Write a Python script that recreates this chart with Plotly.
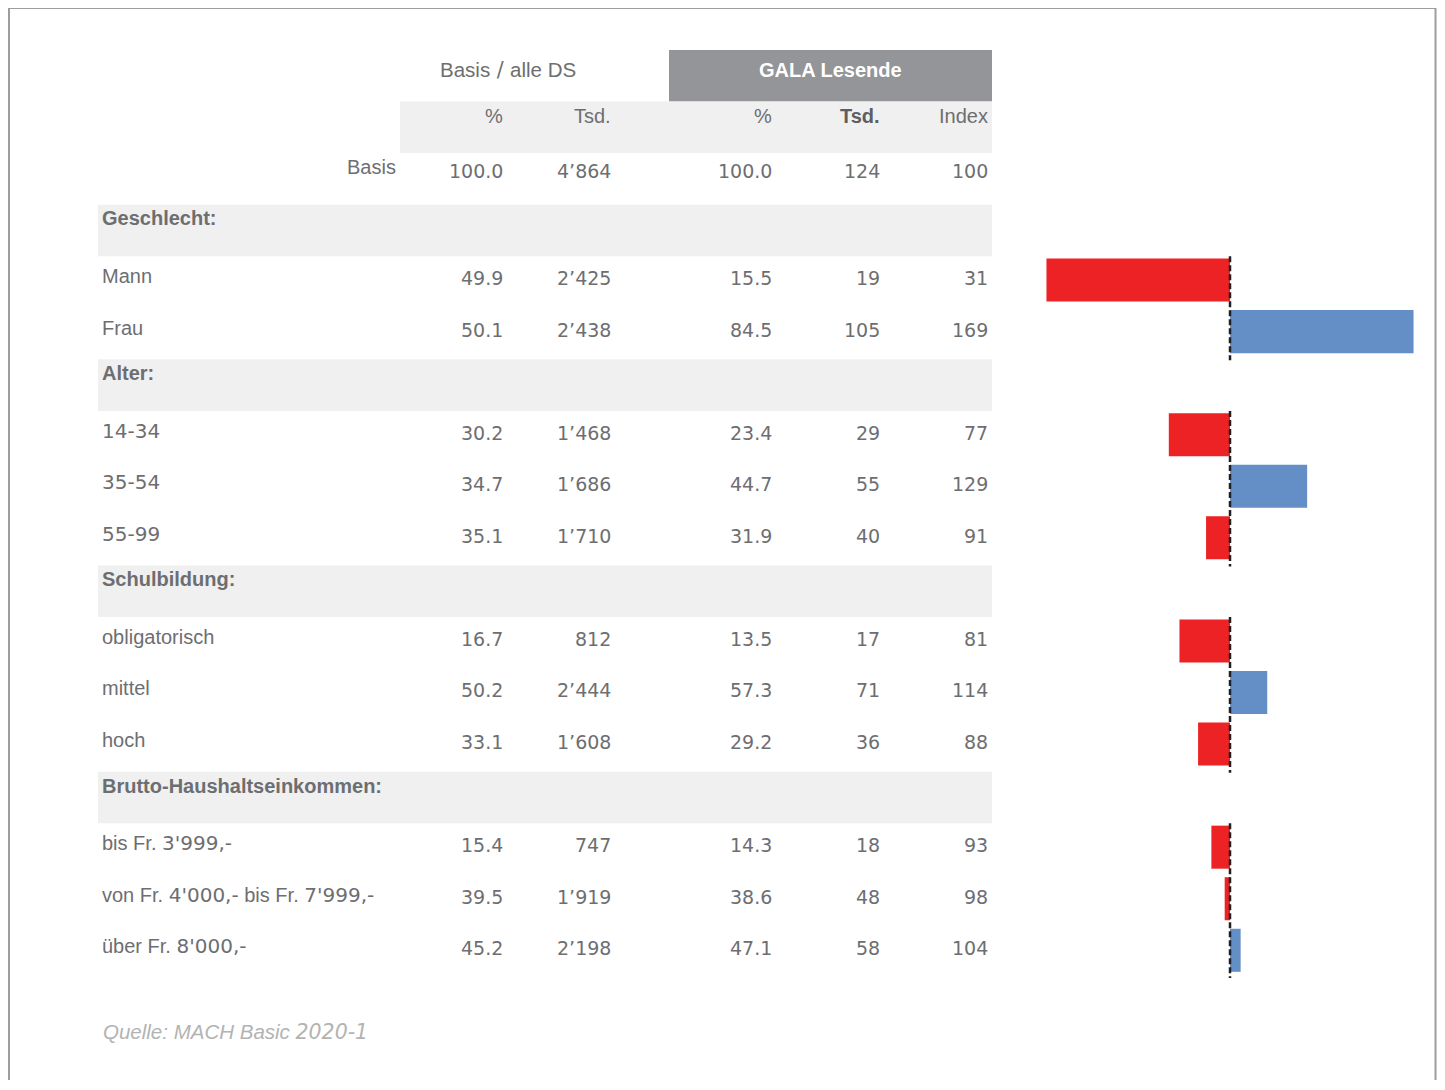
import re
import plotly.graph_objects as go

# ---------------- data ----------------
groups = ["Geschlecht:", "Alter:", "Schulbildung:", "Brutto-Haushaltseinkommen:"]
group_categories = [
    ["Mann", "Frau"],
    ["14-34", "35-54", "55-99"],
    ["obligatorisch", "mittel", "hoch"],
    ["bis Fr. 3'999,-", "von Fr. 4'000,- bis Fr. 7'999,-", "über Fr. 8'000,-"],
]
basis_pct = [49.9, 50.1, 30.2, 34.7, 35.1, 16.7, 50.2, 33.1, 15.4, 39.5, 45.2]
basis_tsd = [2425, 2438, 1468, 1686, 1710, 812, 2444, 1608, 747, 1919, 2198]
gala_pct = [15.5, 84.5, 23.4, 44.7, 31.9, 13.5, 57.3, 29.2, 14.3, 38.6, 47.1]
gala_tsd = [19, 105, 29, 55, 40, 17, 71, 36, 18, 48, 58]
gala_index = [31, 169, 77, 129, 91, 81, 114, 88, 93, 98, 104]

total_row = {"basis_pct": 100.0, "basis_tsd": 4864, "gala_pct": 100.0, "gala_tsd": 124, "gala_index": 100}

title_basis = "Basis / alle DS"
title_target = "GALA Lesende"
col_headers = ["%", "Tsd.", "%", "Tsd.", "Index"]
source_text = "Quelle: MACH Basic 2020-1"

# ---------------- layout helpers ----------------
W, H = 1429, 1072
OX, OY = 8, 8


def px(x):
    return (x - OX) / W


def py(y):
    return 1 - (y - OY) / H


ROW_TOP, ROW_BOTTOM, N_ROWS = 50, 978, 18

TXT = "#6d6e71"
LABEL_FONT = "Liberation Sans, Arial, sans-serif"
NUM_FONT = "DejaVu Sans, Verdana, sans-serif"
RED = "#ed2224"
BLUE = "#648fc6"
SHADE = "#f0f0f0"
HEADER_GRAY = "#939598"


def fmt_tsd(v):
    return f"{v:,}".replace(",", "\u2019")


def fmt_pct(v):
    return f"{v:.1f}"


def mixed(label, pattern=r"(\d[\d'\u2019,\-]*)"):
    return re.sub(pattern,
                  lambda m: f'<span style="font-family:DejaVu Sans">{m.group(1)}</span>', label)


# column right edges (page px)
col_x = [505, 613, 774, 882, 990]

annotations = []
shapes = []


def add_text(text, x, row, anchor="right", size=19, font=NUM_FONT, color=TXT, shift=4, bold=False):
    annotations.append(dict(
        text=f"<b>{text}</b>" if bold else text,
        xref="paper", x=px(x), xanchor=anchor,
        yref="y", y=row + 0.5, yanchor="middle", yshift=shift,
        showarrow=False, font=dict(family=font, size=size, color=color),
    ))


def add_band(row, x0, x1, color):
    shapes.append(dict(type="rect", xref="paper", yref="y", x0=px(x0), x1=px(x1),
                       y0=row, y1=row + 1, fillcolor=color, line=dict(width=0), layer="below"))


# header rows
add_band(0, 669, 992, HEADER_GRAY)
add_band(1, 400, 992, SHADE)
add_text(mixed(title_basis, r"( / )"), 508, 0, anchor="center", size=20.5, font=LABEL_FONT, shift=6)
add_text(title_target, 830, 0, anchor="center", size=20, font=LABEL_FONT, color="white", shift=6, bold=True)
for i, h in enumerate(col_headers):
    bold = (i == 3)
    add_text(h, col_x[i], 1, size=20, font=LABEL_FONT, shift=11, bold=bold,
             color="#5d5e61" if bold else TXT)

# total row
add_text("Basis", 398, 2, size=20, font=LABEL_FONT, shift=12)
total_vals = [fmt_pct(total_row["basis_pct"]), fmt_tsd(total_row["basis_tsd"]),
              fmt_pct(total_row["gala_pct"]), fmt_tsd(total_row["gala_tsd"]), str(total_row["gala_index"])]
for i, v in enumerate(total_vals):
    add_text(v, col_x[i], 2, shift=8)

# body rows
row = 3
k = 0
bar_rows, bar_vals, bar_colors = [], [], []
for g, cats in zip(groups, group_categories):
    add_band(row, 98, 992, SHADE)
    add_text(g, 100, row, anchor="left", size=20, font=LABEL_FONT, shift=12, bold=True)
    row += 1
    first = row
    for c in cats:
        add_text(mixed(c), 100, row, anchor="left", size=20, font=LABEL_FONT, shift=6)
        vals = [fmt_pct(basis_pct[k]), fmt_tsd(basis_tsd[k]), fmt_pct(gala_pct[k]),
                fmt_tsd(gala_tsd[k]), str(gala_index[k])]
        for i, v in enumerate(vals):
            add_text(v, col_x[i], row, shift=4)
        bar_rows.append(row + 0.5)
        bar_vals.append(gala_index[k] - 100)
        bar_colors.append(RED if gala_index[k] < 100 else BLUE)
        row += 1
        k += 1
    shapes.append(dict(type="line", xref="x", yref="y", x0=100, x1=100, y0=first, y1=row + 0.02,
                       line=dict(color="#231f20", width=2.5, dash="6px,3px"), layer="above"))

# source
annotations.append(dict(text=mixed(source_text, r"(\d[\d\-]*)"), xref="paper", x=px(101), xanchor="left",
                        yref="paper", y=py(1032), yanchor="middle", showarrow=False,
                        font=dict(family=LABEL_FONT, size=20.5, color="#b3b3b3", style="italic")))

# frame
shapes.append(dict(type="rect", xref="paper", yref="paper", x0=px(9), x1=px(1435.5),
                   y0=-0.2, y1=py(8), line=dict(color="#9d9da0", width=2), layer="above"))

fig = go.Figure(go.Bar(
    y=bar_rows, x=bar_vals, base=100, orientation="h",
    marker=dict(color=bar_colors, line=dict(width=0)),
    width=0.835, offset=-0.455, hoverinfo="skip",
))

fig.update_layout(
    width=W, height=H,
    margin=dict(l=0, r=0, t=0, b=0),
    paper_bgcolor="white", plot_bgcolor="rgba(0,0,0,0)",
    showlegend=False,
    xaxis=dict(domain=[px(1040), px(1420)], range=[100 - 190 / 2.66, 100 + 190 / 2.66],
               visible=False, fixedrange=True),
    yaxis=dict(domain=[py(ROW_BOTTOM), py(ROW_TOP)], range=[N_ROWS, 0],
               visible=False, fixedrange=True),
    annotations=annotations,
    shapes=shapes,
)

fig.write_html("out.html")
